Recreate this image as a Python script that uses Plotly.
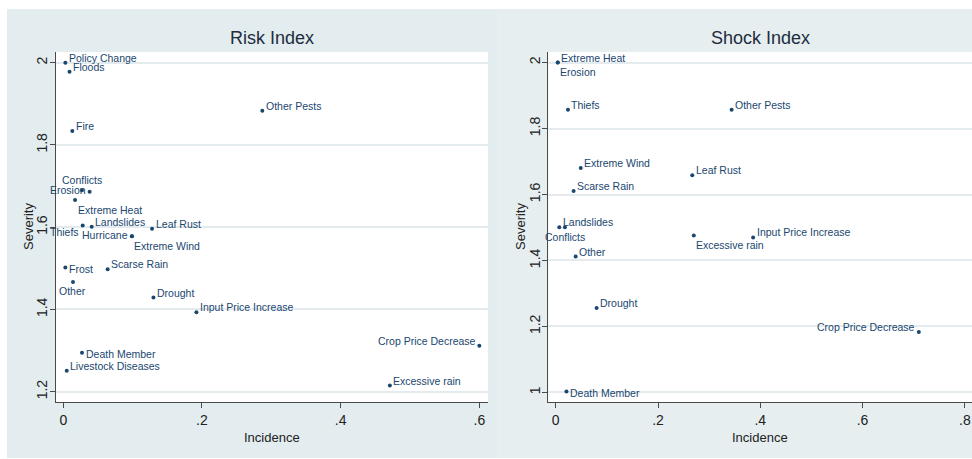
import plotly.graph_objects as go

# ---------------- data ----------------
risk_names = ["Policy Change", "Floods", "Fire", "Other Pests", "Conflicts", "Erosion",
              "Extreme Heat", "Thiefs", "Landslides", "Hurricane", "Extreme Wind",
              "Leaf Rust", "Frost", "Scarse Rain", "Other", "Drought",
              "Input Price Increase", "Crop Price Decrease", "Death Member",
              "Livestock Diseases", "Excessive rain"]
risk_incidence = [0.003, 0.009, 0.013, 0.287, 0.027, 0.038,
                  0.017, 0.028, 0.041, 0.099, 0.099,
                  0.128, 0.003, 0.064, 0.014, 0.130,
                  0.192, 0.600, 0.027,
                  0.005, 0.471]
risk_severity = [2.000, 1.978, 1.834, 1.883, 1.690, 1.686,
                 1.666, 1.604, 1.601, 1.578, 1.578,
                 1.596, 1.502, 1.498, 1.467, 1.429,
                 1.393, 1.312, 1.295,
                 1.251, 1.215]

shock_names = ["Extreme Heat", "Erosion", "Thiefs", "Other Pests", "Extreme Wind",
               "Leaf Rust", "Scarse Rain", "Landslides", "Conflicts", "Excessive rain",
               "Input Price Increase", "Other", "Drought", "Crop Price Decrease",
               "Death Member"]
shock_incidence = [0.004, 0.004, 0.024, 0.344, 0.049,
                   0.267, 0.035, 0.007, 0.018, 0.270,
                   0.386, 0.039, 0.080, 0.710,
                   0.021]
shock_severity = [2.000, 2.000, 1.857, 1.857, 1.680,
                  1.658, 1.611, 1.501, 1.501, 1.476,
                  1.470, 1.412, 1.256, 1.183,
                  1.003]

risk_xticks = [0, 0.2, 0.4, 0.6]
risk_xticklabels = ["0", ".2", ".4", ".6"]
risk_yticks = [1.2, 1.4, 1.6, 1.8, 2.0]
risk_yticklabels = ["1.2", "1.4", "1.6", "1.8", "2"]
shock_xticks = [0, 0.2, 0.4, 0.6, 0.8]
shock_xticklabels = ["0", ".2", ".4", ".6", ".8"]
shock_yticks = [1.0, 1.2, 1.4, 1.6, 1.8, 2.0]
shock_yticklabels = ["1", "1.2", "1.4", "1.6", "1.8", "2"]

# ---------------- styles ----------------
risk_labelpos = ["top right", "top right", "top right", "top right", "top center", "middle left",
                 "bottom right", "bottom left", "top right", "middle left", "bottom right",
                 "top right", "middle right", "top right", "bottom center", "top right",
                 "top right", "top left", "middle right",
                 "top right", "top right"]
shock_labelpos = ["top right", "bottom right", "top right", "top right", "top right",
                  "top right", "top right", "top right", "bottom center", "bottom right",
                  "top right", "top right", "top right", "top left",
                  "middle right"]

# label placement offsets (pixels) per position: xanchor, xshift, yshift
POS = {
    "top right":     ("left", 2.5, 5),
    "middle right":  ("left", 3, -1.5),
    "bottom right":  ("left", 1.5, -9.5),
    "top left":      ("right", -2.5, 5),
    "middle left":   ("right", -2.5, 1.5),
    "bottom left":   ("right", -2.5, -6),
    "top center":    ("center", 0, 10.5),
    "bottom center": ("center", 0, -9.5),
}

FONT = "Liberation Sans, Arial, Helvetica, sans-serif"
MARK = "#1a476f"
W, H = 972, 459

fig = go.Figure()
fig.add_trace(go.Scatter(x=risk_incidence, y=risk_severity, mode="markers",
                         marker=dict(size=4, color=MARK), hoverinfo="skip",
                         xaxis="x", yaxis="y", showlegend=False, cliponaxis=False))
fig.add_trace(go.Scatter(x=shock_incidence, y=shock_severity, mode="markers",
                         marker=dict(size=4, color=MARK), hoverinfo="skip",
                         xaxis="x2", yaxis="y2", showlegend=False, cliponaxis=False))

def add_labels(names, xs, ys, positions, xref, yref):
    for name, x, y, p in zip(names, xs, ys, positions):
        xa, dx, dy = POS[p]
        fig.add_annotation(text=name, x=x, y=y, xref=xref, yref=yref, showarrow=False,
                           xanchor=xa, yanchor="middle", xshift=dx, yshift=dy,
                           borderpad=0,
                           font=dict(family=FONT, size=10.5, color=MARK))

add_labels(risk_names, risk_incidence, risk_severity, risk_labelpos, "x", "y")
add_labels(shock_names, shock_incidence, shock_severity, shock_labelpos, "x2", "y2")

ydom = [1 - 402 / H, 1 - 52 / H]
axis_common = dict(showline=True, linecolor="#4a4a4a", linewidth=1, ticks="outside",
                   ticklen=5, tickcolor="#4a4a4a", zeroline=False,
                   tickfont=dict(family=FONT, size=14, color="#222222"))

fig.update_layout(
    width=W, height=H, margin=dict(l=0, r=0, t=0, b=0),
    paper_bgcolor="white", plot_bgcolor="white",
    xaxis=dict(domain=[56 / W, 488 / W], range=[-0.0105, 0.6125], anchor="y",
               tickvals=risk_xticks, ticktext=risk_xticklabels, showgrid=False, **axis_common),
    yaxis=dict(domain=ydom, range=[1.175, 2.026], anchor="x",
               tickvals=risk_yticks, ticktext=risk_yticklabels, tickangle=-90,
               ticklabelstandoff=-3,
               showgrid=True, gridcolor="#e3ebee", gridwidth=1.5, **axis_common),
    xaxis2=dict(domain=[548.3 / W, 1.0], range=[-0.0145, 0.814], anchor="y2",
                tickvals=shock_xticks, ticktext=shock_xticklabels, showgrid=False, **axis_common),
    yaxis2=dict(domain=ydom, range=[0.971, 2.032], anchor="x2",
                tickvals=shock_yticks, ticktext=shock_yticklabels, tickangle=-90,
                ticklabelstandoff=-3,
                showgrid=True, gridcolor="#e3ebee", gridwidth=1.5, **axis_common),
)

# panel backgrounds
fig.add_shape(type="rect", xref="paper", yref="paper", x0=7 / W, x1=497 / W,
              y0=1 - 458 / H, y1=1 - 9 / H, fillcolor="#e3ecee", line=dict(width=0), layer="below")
fig.add_shape(type="rect", xref="paper", yref="paper", x0=497 / W, x1=1.0,
              y0=1 - 458 / H, y1=1 - 9 / H, fillcolor="#e6eef0", line=dict(width=0), layer="below")
# white plot regions (drawn below traces)
fig.add_shape(type="rect", xref="paper", yref="paper", x0=56 / W, x1=488 / W,
              y0=ydom[0], y1=ydom[1], fillcolor="white", line=dict(width=0), layer="below")
fig.add_shape(type="rect", xref="paper", yref="paper", x0=548.3 / W, x1=1.0,
              y0=ydom[0], y1=ydom[1], fillcolor="white", line=dict(width=0), layer="below")

TITLE_C = "#1e2d40"
def ann(text, xpx, ypx, size, angle=0, color=TITLE_C):
    fig.add_annotation(text=text, x=xpx / W, y=1 - ypx / H, xref="paper", yref="paper",
                       showarrow=False, textangle=angle, xanchor="center", yanchor="middle",
                       font=dict(family=FONT, size=size, color=color))

ann("Risk Index", 272, 38, 18)
ann("Shock Index", 760, 38, 18)
ann("Severity", 28, 227, 13, angle=-90, color="#222222")
ann("Severity", 520, 227, 13, angle=-90, color="#222222")
ann("Incidence", 272, 437, 13, color="#222222")
ann("Incidence", 760, 437, 13, color="#222222")

fig.write_html("out.html", config={"displayModeBar": False},
               post_script="document.body.style.margin='0';document.body.style.overflow='hidden';")
